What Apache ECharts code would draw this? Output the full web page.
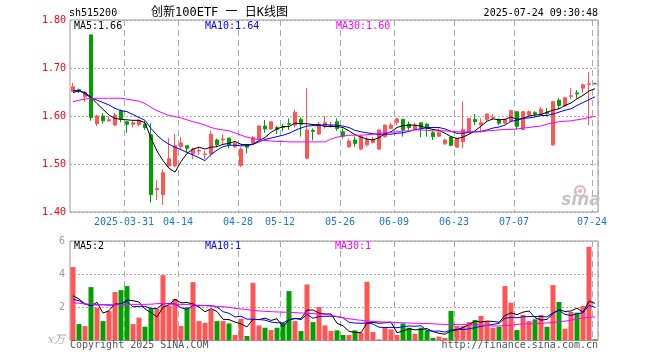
<!DOCTYPE html>
<html><head><meta charset="utf-8">
<script src="https://cdn.jsdelivr.net/npm/echarts@6/dist/echarts.min.js"></script>
<style>html,body{margin:0;padding:0;background:#fff}#c{width:660px;height:360px}</style>
</head><body><div id="c"></div>
<script>
const dates = ['2025-03-18','2025-03-19','2025-03-20','2025-03-21','2025-03-24','2025-03-25','2025-03-26','2025-03-27','2025-03-28','2025-03-31',
'2025-04-01','2025-04-02','2025-04-03','2025-04-07','2025-04-08','2025-04-09','2025-04-10','2025-04-11','2025-04-14','2025-04-15',
'2025-04-16','2025-04-17','2025-04-18','2025-04-21','2025-04-22','2025-04-23','2025-04-24','2025-04-25','2025-04-28','2025-04-29',
'2025-04-30','2025-05-06','2025-05-07','2025-05-08','2025-05-09','2025-05-12','2025-05-13','2025-05-14','2025-05-15','2025-05-16',
'2025-05-19','2025-05-20','2025-05-21','2025-05-22','2025-05-23','2025-05-26','2025-05-27','2025-05-28','2025-05-29','2025-05-30',
'2025-06-03','2025-06-04','2025-06-05','2025-06-06','2025-06-09','2025-06-10','2025-06-11','2025-06-12','2025-06-13','2025-06-16',
'2025-06-17','2025-06-18','2025-06-19','2025-06-20','2025-06-23','2025-06-24','2025-06-25','2025-06-26','2025-06-27','2025-06-30',
'2025-07-01','2025-07-02','2025-07-03','2025-07-04','2025-07-07','2025-07-08','2025-07-09','2025-07-10','2025-07-11','2025-07-14',
'2025-07-15','2025-07-16','2025-07-17','2025-07-18','2025-07-21','2025-07-22','2025-07-23','2025-07-24'];

const open = [1.651,1.655,1.640,1.769,1.584,1.600,1.590,1.581,1.611,1.588,
1.583,1.582,1.583,1.561,1.447,1.436,1.496,1.496,1.536,1.538,
1.521,1.527,1.520,1.521,1.550,1.550,1.554,1.536,1.497,1.540,
1.543,1.551,1.579,1.573,1.576,1.578,1.584,1.581,1.593,1.512,
1.570,1.5625,1.578,1.578,1.588,1.567,1.536,1.550,1.531,1.540,
1.545,1.531,1.557,1.574,1.587,1.593,1.583,1.573,1.586,1.583,
1.565,1.558,1.542,1.556,1.535,1.5465,1.567,1.593,1.581,1.593,
1.596,1.592,1.585,1.589,1.609,1.572,1.602,1.607,1.604,1.608,
1.540,1.633,1.621,1.641,1.648,1.658,1.666,1.668];
const close = [1.661,1.652,1.649,1.597,1.600,1.590,1.592,1.602,1.593,1.583,
1.586,1.590,1.576,1.436,1.449,1.482,1.511,1.538,1.544,1.533,
1.531,1.528,1.521,1.562,1.540,1.552,1.540,1.543,1.531,1.535,
1.555,1.579,1.573,1.588,1.572,1.576,1.583,1.608,1.583,1.571,
1.568,1.583,1.586,1.581,1.574,1.558,1.548,1.543,1.558,1.551,
1.552,1.571,1.581,1.581,1.594,1.571,1.576,1.581,1.574,1.574,
1.557,1.565,1.550,1.539,1.553,1.572,1.595,1.588,1.586,1.604,
1.597,1.585,1.593,1.611,1.578,1.609,1.609,1.604,1.614,1.605,
1.630,1.622,1.638,1.642,1.646,1.665,1.667,1.667];
const low = [1.650,1.648,1.630,1.590,1.579,1.584,1.588,1.579,1.587,1.565,
1.576,1.578,1.571,1.420,1.425,1.415,1.494,1.493,1.529,1.524,
1.510,1.519,1.510,1.515,1.535,1.540,1.533,1.533,1.494,1.522,
1.542,1.550,1.565,1.571,1.562,1.568,1.571,1.576,1.557,1.510,
1.549,1.560,1.574,1.576,1.569,1.553,1.534,1.536,1.529,1.536,
1.543,1.529,1.555,1.573,1.581,1.557,1.571,1.571,1.556,1.557,
1.550,1.556,1.540,1.537,1.534,1.533,1.565,1.581,1.567,1.588,
1.592,1.581,1.583,1.588,1.571,1.571,1.599,1.599,1.602,1.602,
1.538,1.614,1.619,1.635,1.637,1.649,1.581,1.667];
const high = [1.669,1.657,1.652,1.769,1.603,1.606,1.600,1.606,1.614,1.588,
1.590,1.593,1.590,1.585,1.467,1.489,1.554,1.563,1.556,1.538,
1.534,1.535,1.528,1.569,1.553,1.562,1.554,1.547,1.535,1.541,
1.558,1.581,1.592,1.588,1.579,1.583,1.595,1.614,1.597,1.658,
1.574,1.588,1.600,1.588,1.595,1.574,1.553,1.557,1.560,1.557,
1.556,1.572,1.582,1.586,1.597,1.594,1.588,1.586,1.586,1.585,
1.569,1.574,1.553,1.556,1.555,1.630,1.596,1.604,1.595,1.605,
1.604,1.595,1.594,1.612,1.610,1.610,1.611,1.610,1.619,1.617,
1.631,1.637,1.640,1.658,1.654,1.667,1.692,1.668];

const ma5 = [1.649,1.652,1.649,1.639,1.626,1.614,1.602,1.595,1.593,1.592,
1.591,1.591,1.586,1.554,1.527,1.507,1.491,1.483,1.505,1.522,
1.531,1.535,1.531,1.535,1.536,1.541,1.543,1.547,1.541,1.540,
1.541,1.549,1.555,1.566,1.573,1.578,1.578,1.585,1.584,1.584,
1.582,1.582,1.578,1.578,1.578,1.576,1.569,1.561,1.556,1.552,
1.550,1.555,1.563,1.567,1.576,1.580,1.581,1.581,1.579,1.575,
1.572,1.570,1.564,1.557,1.553,1.556,1.562,1.569,1.579,1.589,
1.594,1.592,1.593,1.598,1.593,1.595,1.600,1.602,1.603,1.608,
1.612,1.615,1.622,1.627,1.636,1.643,1.652,1.657];
const ma10 = [1.653,1.653,1.646,1.638,1.633,1.628,1.623,1.616,1.611,1.609,
1.603,1.597,1.591,1.574,1.560,1.549,1.541,1.535,1.530,1.524,
1.519,1.513,1.507,1.520,1.529,1.536,1.539,1.539,1.538,1.538,
1.541,1.546,1.551,1.554,1.557,1.560,1.564,1.570,1.575,1.579,
1.580,1.580,1.582,1.581,1.581,1.579,1.576,1.570,1.567,1.565,
1.563,1.562,1.562,1.562,1.564,1.565,1.568,1.572,1.573,1.576,
1.576,1.576,1.573,1.568,1.564,1.564,1.566,1.567,1.568,1.571,
1.575,1.577,1.581,1.589,1.591,1.595,1.596,1.598,1.601,1.601,
1.604,1.608,1.612,1.615,1.622,1.628,1.634,1.640];
const ma30 = [1.630,1.633,1.635,1.637,1.637,1.637,1.637,1.637,1.637,1.635,
1.633,1.631,1.626,1.618,1.611,1.606,1.601,1.599,1.596,1.592,
1.588,1.585,1.581,1.576,1.573,1.571,1.569,1.565,1.560,1.556,
1.553,1.550,1.549,1.548,1.547,1.547,1.546,1.546,1.546,1.546,
1.546,1.546,1.546,1.552,1.556,1.558,1.560,1.560,1.560,1.561,
1.562,1.564,1.565,1.566,1.567,1.569,1.569,1.571,1.571,1.570,
1.569,1.569,1.569,1.568,1.567,1.567,1.567,1.567,1.567,1.569,
1.570,1.571,1.572,1.572,1.573,1.575,1.576,1.578,1.579,1.583,
1.586,1.588,1.589,1.590,1.592,1.594,1.597,1.599];

const volume = [4.43,0.99,0.87,3.22,1.98,1.17,1.78,2.92,3.04,3.28,
0.99,1.38,0.83,1.96,1.92,3.94,2.10,2.51,0.87,2.01,
3.52,1.17,1.07,1.84,1.17,1.17,1.03,0.33,1.31,0.27,
3.48,0.91,0.77,0.63,0.77,1.07,2.98,1.17,0.57,3.38,
1.11,2.02,0.91,0.57,0.61,0.33,0.33,0.61,0.47,3.54,
0.51,0.07,0.77,0.67,0.33,1.03,0.77,0.41,0.77,0.61,
0.15,0.23,0.15,1.78,0.87,0.87,1.11,1.23,1.48,1.17,
0.77,0.83,3.28,2.28,0.63,1.54,1.17,1.28,1.54,0.83,
3.34,2.32,0.71,1.72,1.68,2.08,5.65,0.07];
const volMa5 = [2.70,2.50,2.20,2.10,2.30,1.65,1.80,2.21,2.18,2.44,
2.40,2.32,1.90,1.69,1.42,2.01,2.15,2.49,2.27,2.29,
2.20,2.02,1.73,1.92,1.75,1.28,1.26,1.11,1.00,0.82,
1.28,1.26,1.35,1.21,1.31,0.83,1.24,1.32,1.31,1.83,
1.84,1.65,1.60,1.60,1.04,0.89,0.55,0.49,0.47,1.06,
1.09,1.04,1.07,1.11,0.47,0.57,0.71,0.64,0.66,0.72,
0.54,0.43,0.38,0.58,0.64,0.78,0.96,1.17,1.11,1.17,
1.15,1.10,1.51,1.67,1.56,1.71,1.78,1.38,1.23,1.27,
1.63,1.86,1.75,1.78,1.95,1.70,2.37,2.24];
const volMa10 = [2.48,2.40,2.20,2.15,2.15,2.15,2.13,2.15,2.22,2.37,
2.03,2.06,2.06,1.94,1.93,2.21,2.24,2.20,1.98,1.86,
2.11,2.09,2.11,2.10,2.02,1.74,1.64,1.42,1.46,1.29,
1.28,1.26,1.23,1.11,1.07,1.06,1.25,1.34,1.26,1.57,
1.34,1.45,1.46,1.46,1.44,1.37,1.10,1.05,1.04,1.05,
0.99,0.80,0.78,0.79,0.77,0.83,0.88,0.86,0.89,0.60,
0.56,0.57,0.51,0.62,0.68,0.66,0.70,0.78,0.85,0.91,
0.97,1.03,1.34,1.39,1.37,1.43,1.44,1.45,1.45,1.42,
1.67,1.82,1.57,1.51,1.61,1.67,2.12,2.00];
const volMa30 = [2.27,2.25,2.20,2.19,2.18,2.17,2.16,2.15,2.16,2.17,
2.18,2.18,2.18,2.19,2.22,2.24,2.20,2.18,2.18,2.17,
2.15,2.12,2.10,2.08,2.06,2.04,2.00,1.94,1.90,1.86,
1.82,1.78,1.76,1.74,1.72,1.71,1.70,1.68,1.66,1.64,
1.62,1.60,1.58,1.52,1.45,1.38,1.31,1.26,1.22,1.17,
1.15,1.13,1.11,1.10,1.08,1.07,1.05,1.04,1.03,1.02,
1.01,0.98,0.97,0.97,0.97,0.97,0.97,0.95,0.93,0.91,
0.87,0.88,0.90,0.92,0.97,1.00,1.01,1.02,1.03,1.06,
1.09,1.12,1.17,1.22,1.30,1.36,1.40,1.42];

const tickDates = ['2025-03-31','2025-04-14','2025-04-28','2025-05-12','2025-05-26','2025-06-09','2025-06-23','2025-07-07','2025-07-24'];
const tickLabels = ['2025-03-31','04-14','04-28','05-12','05-26','06-09','06-23','07-07','07-24'];
const priceTicks = [1.40, 1.50, 1.60, 1.70, 1.80];
const volTicks = [0, 2, 4, 6];

const RED = '#ff5555', GREEN = '#00a000';
const MONO = '"DejaVu Sans Mono", monospace';
const isTick = (idx, val) => tickDates.indexOf(val) >= 0;

const candleData = dates.map((d, i) => [open[i], close[i], low[i], high[i]]);
const volData = volume.map((v, i) => ({ value: v, itemStyle: { color: close[i] >= open[i] ? RED : GREEN } }));

function txt(x, y, text, fill, opts) {
  opts = opts || {};
  return { type: 'text', x: x, y: y, silent: true, z: 100,
    style: { text: text, fill: fill, font: opts.font || ('10px ' + MONO),
      align: opts.align || 'left', textAlign: opts.align || 'left',
      verticalAlign: 'middle', textVerticalAlign: 'middle' } };
}

const chart = echarts.init(document.getElementById('c'), null, { renderer: 'canvas' });
chart.setOption({
  animation: false,
  backgroundColor: '#fff',
  grid: [
    { left: 70, top: 20, width: 528, height: 192, show: true, borderColor: '#999', borderWidth: 1, outerBoundsMode: 'none' },
    { left: 70, top: 241, width: 528, height: 99.5, show: true, borderColor: '#999', borderWidth: 1, outerBoundsMode: 'none' }
  ],
  xAxis: [
    { type: 'category', gridIndex: 0, data: dates, boundaryGap: true,
      axisLine: { show: false }, axisTick: { show: false },
      axisLabel: { interval: isTick, color: '#1a78d0', fontFamily: MONO, fontSize: 10, margin: 5, padding: [0, 6, 0, 0],
        formatter: v => tickLabels[tickDates.indexOf(v)] },
      splitLine: { show: true, interval: isTick, lineStyle: { color: '#aaa', type: [6, 4], width: 1 } } },
    { type: 'category', gridIndex: 1, data: dates, boundaryGap: true,
      axisLine: { show: false }, axisTick: { show: false }, axisLabel: { show: false },
      splitLine: { show: true, interval: isTick, lineStyle: { color: '#aaa', type: [6, 4], width: 1 } } }
  ],
  yAxis: [
    { type: 'value', gridIndex: 0, min: priceTicks[0], max: priceTicks[priceTicks.length - 1], interval: 0.1,
      axisLine: { show: false }, axisTick: { show: false },
      axisLabel: { color: '#ff0000', fontFamily: MONO, fontSize: 10, margin: 4, formatter: v => v.toFixed(2) },
      splitLine: { show: true, lineStyle: { color: '#aaa', type: [2, 2], width: 1 } } },
    { type: 'value', gridIndex: 1, min: volTicks[0], max: volTicks[volTicks.length - 1], interval: 2,
      axisLine: { show: false }, axisTick: { show: false },
      axisLabel: { color: '#999', fontFamily: MONO, fontSize: 10, margin: 5, formatter: v => v === 0 ? '' : String(v) },
      splitLine: { show: true, lineStyle: { color: '#aaa', type: [2, 2], width: 1 } } }
  ],
  series: [
    { type: 'candlestick', xAxisIndex: 0, yAxisIndex: 0, data: candleData, barWidth: 4,
      itemStyle: { color: RED, color0: GREEN, borderColor: RED, borderColor0: GREEN, borderWidth: 1 } },
    { type: 'line', xAxisIndex: 0, yAxisIndex: 0, data: ma5, symbol: 'none', lineStyle: { color: '#000', width: 1 }, z: 5 },
    { type: 'line', xAxisIndex: 0, yAxisIndex: 0, data: ma10, symbol: 'none', lineStyle: { color: '#0000ff', width: 1 }, z: 5 },
    { type: 'line', xAxisIndex: 0, yAxisIndex: 0, data: ma30, symbol: 'none', lineStyle: { color: '#ff00ff', width: 1 }, z: 5 },
    { type: 'bar', xAxisIndex: 1, yAxisIndex: 1, data: volData, barWidth: 5 },
    { type: 'line', xAxisIndex: 1, yAxisIndex: 1, data: volMa5, symbol: 'none', lineStyle: { color: '#000', width: 1 }, z: 5 },
    { type: 'line', xAxisIndex: 1, yAxisIndex: 1, data: volMa10, symbol: 'none', lineStyle: { color: '#0000ff', width: 1 }, z: 5 },
    { type: 'line', xAxisIndex: 1, yAxisIndex: 1, data: volMa30, symbol: 'none', lineStyle: { color: '#ff00ff', width: 1 }, z: 5 }
  ],
  graphic: [
    txt(69, 13, 'sh515200', '#000'),
    txt(151, 13, '创新100ETF 一 日K线图', '#000', { font: '12px "DejaVu Sans Mono","Noto Sans CJK SC"' }),
    txt(598, 13, '2025-07-24 09:30:48', '#000', { align: 'right' }),
    txt(74, 26.5, 'MA5:' + ma5[ma5.length - 1].toFixed(2), '#000'),
    txt(205, 26.5, 'MA10:' + ma10[ma10.length - 1].toFixed(2), '#0000ff'),
    txt(336, 26.5, 'MA30:' + ma30[ma30.length - 1].toFixed(2), '#ff00ff'),
    txt(74, 246.5, 'MA5:' + Math.floor(volMa5[volMa5.length - 1]), '#000'),
    txt(205, 246.5, 'MA10:' + Math.floor(volMa10[volMa10.length - 1] - 0.001), '#0000ff'),
    txt(335, 246.5, 'MA30:' + Math.floor(volMa30[volMa30.length - 1]), '#ff00ff'),
    txt(70, 345.5, 'Copyright 2025 SINA.COM', '#555'),
    txt(598, 345.5, 'http://finance.sina.com.cn', '#555', { align: 'right' }),
    txt(65, 340, 'x万', '#aaa', { align: 'right', font: 'italic 11px "DejaVu Serif","Noto Sans CJK SC"' }),
    { type: 'circle', silent: true, z: 1, shape: { cx: 580, cy: 191, r: 5 }, style: { fill: 'none', stroke: '#f3b0b0', lineWidth: 2 } },
    { type: 'circle', silent: true, z: 1, shape: { cx: 580, cy: 191, r: 2 }, style: { fill: '#f3b0b0' } },
    txt(581, 201, 'sina', '#c4c4c4', { align: 'center', font: 'italic bold 17px "DejaVu Sans"' })
  ]
});
</script></body></html>
